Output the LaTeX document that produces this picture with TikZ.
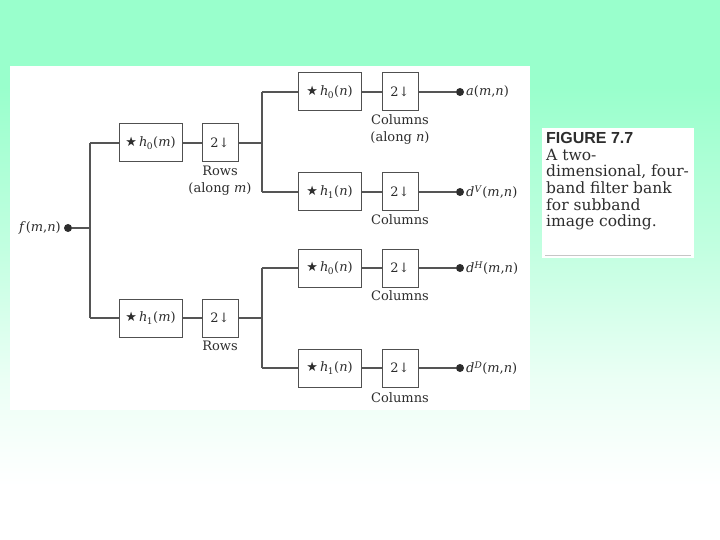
\documentclass[tikz,border=0pt]{standalone}
\usepackage{fontspec}
\setmainfont{DejaVu Serif}
\newfontfamily\symfont{DejaVu Sans}
\newfontfamily\capsans{Liberation Sans}
\definecolor{mint}{RGB}{153,255,204}
\definecolor{txt}{RGB}{45,45,45}
\definecolor{wirec}{RGB}{85,85,85}
\definecolor{boxc}{RGB}{80,80,80}
\pgfdeclareverticalshading{bgshade}{100bp}{color(0bp)=(white); color(25bp)=(white); color(30bp)=(white); color(40bp)=(mint!20!white); color(52bp)=(mint!60!white); color(67bp)=(mint); color(75bp)=(mint); color(100bp)=(mint)}
\newcommand{\fstar}{{\symfont\fontsize{13}{13}\selectfont ★}\,}
\newcommand{\iv}[1]{\textit{#1}}
\newcommand{\sbx}[1]{\kern-0.6pt\textsubscript{#1}}
\begin{document}
\begin{tikzpicture}[x=1pt,y=-1pt,
  filt/.style={draw=boxc, line width=1pt, fill=white, minimum width=63pt, minimum height=38pt, inner sep=0pt, font=\fontsize{13}{15}\selectfont, text=txt},
  dec/.style={filt, minimum width=36pt},
  lab/.style={font=\fontsize{13}{17}\selectfont, text=txt, align=center, inner sep=0pt, anchor=north},
  wire/.style={draw=wirec, line width=1.1pt},
  pt/.style={circle, fill=txt, inner sep=0pt, minimum size=8pt},
  olab/.style={font=\fontsize{13}{15}\selectfont, text=txt, anchor=west, inner sep=0pt},
  capt/.style={font=\fontsize{15.5}{16.7}\selectfont, text=txt, align=left, inner sep=0pt, anchor=north west}
]
\useasboundingbox (0,0) rectangle (720,540);
\fill[shading=bgshade] (0,0) rectangle (720,540);
\fill[white] (10,66) rectangle (530,410);
\fill[white] (542,128) rectangle (694,258);
\draw[gray!45, line width=0.8pt] (545,255) -- (691,255);

% input
\node[pt] (fin) at (68,228) {};
\node[olab, anchor=east] (flab) at (61,228) {\iv{f}(\iv{m},\iv{n})};
\coordinate (j0) at (90,228);
\coordinate (j0t) at (90,143);
\coordinate (j0b) at (90,318);

% row stage
\node[filt] (h0m) at (150.5,143) {\fstar\iv{h}\sbx{0}(\iv{m})};
\node[dec] (d0m) at (220,143) {2↓};
\node[lab] (r0) at ([yshift=-3]d0m.south) {Rows\\(along \iv{m})};
\node[filt] (h1m) at (150.5,318) {\fstar\iv{h}\sbx{1}(\iv{m})};
\node[dec] (d1m) at (220,318) {2↓};
\node[lab] (r1) at ([yshift=-3]d1m.south) {Rows};

% column stage (top)
\coordinate (j1) at (262,143);
\coordinate (j1t) at (262,92);
\coordinate (j1b) at (262,192);
\node[filt] (h00) at (329.5,92) {\fstar\iv{h}\sbx{0}(\iv{n})};
\node[dec] (d00) at (400,92) {2↓};
\node[lab] (c00) at ([yshift=-3]d00.south) {Columns\\(along \iv{n})};
\node[filt] (h01) at (329.5,192) {\fstar\iv{h}\sbx{1}(\iv{n})};
\node[dec] (d01) at (400,192) {2↓};
\node[lab] (c01) at ([yshift=-3]d01.south) {Columns};

% column stage (bottom)
\coordinate (j2) at (262,318);
\coordinate (j2t) at (262,268);
\coordinate (j2b) at (262,368);
\node[filt] (h10) at (329.5,268) {\fstar\iv{h}\sbx{0}(\iv{n})};
\node[dec] (d10) at (400,268) {2↓};
\node[lab] (c10) at ([yshift=-3]d10.south) {Columns};
\node[filt] (h11) at (329.5,368) {\fstar\iv{h}\sbx{1}(\iv{n})};
\node[dec] (d11) at (400,368) {2↓};
\node[lab] (c11) at ([yshift=-5]d11.south) {Columns};

% outputs
\node[pt] (o1) at (460,92) {};
\node[olab] (l1) at (466,92) {\iv{a}(\iv{m},\iv{n})};
\node[pt] (o2) at (460,192) {};
\node[olab] (l2) at (466,192) {\iv{d}\textsuperscript{\iv{V}}(\iv{m},\iv{n})};
\node[pt] (o3) at (460,268) {};
\node[olab] (l3) at (466,268) {\iv{d}\textsuperscript{\iv{H}}(\iv{m},\iv{n})};
\node[pt] (o4) at (460,368) {};
\node[olab] (l4) at (466,368) {\iv{d}\textsuperscript{\iv{D}}(\iv{m},\iv{n})};

% wires
\draw[wire] (fin) -- (j0);
\draw[wire] (j0t) -- (j0b);
\draw[wire] (j0t) -- (h0m.west);
\draw[wire] (j0b) -- (h1m.west);
\draw[wire] (h0m) -- (d0m);
\draw[wire] (h1m) -- (d1m);
\draw[wire] (d0m.east) -- (j1);
\draw[wire] (d1m.east) -- (j2);
\draw[wire] (j1t) -- (j1b);
\draw[wire] (j2t) -- (j2b);
\draw[wire] (j1t) -- (h00.west);
\draw[wire] (j1b) -- (h01.west);
\draw[wire] (j2t) -- (h10.west);
\draw[wire] (j2b) -- (h11.west);
\draw[wire] (h00) -- (d00);
\draw[wire] (h01) -- (d01);
\draw[wire] (h10) -- (d10);
\draw[wire] (h11) -- (d11);
\draw[wire] (d00) -- (o1);
\draw[wire] (d01) -- (o2);
\draw[wire] (d10) -- (o3);
\draw[wire] (d11) -- (o4);

% caption
\node[capt] (caption) at (546,132) {{\capsans\bfseries\fontsize{16}{16.7}\selectfont FIGURE 7.7}\\A two-\\dimensional, four-\\band filter bank\\for subband\\image coding.};
\end{tikzpicture}
\end{document}
